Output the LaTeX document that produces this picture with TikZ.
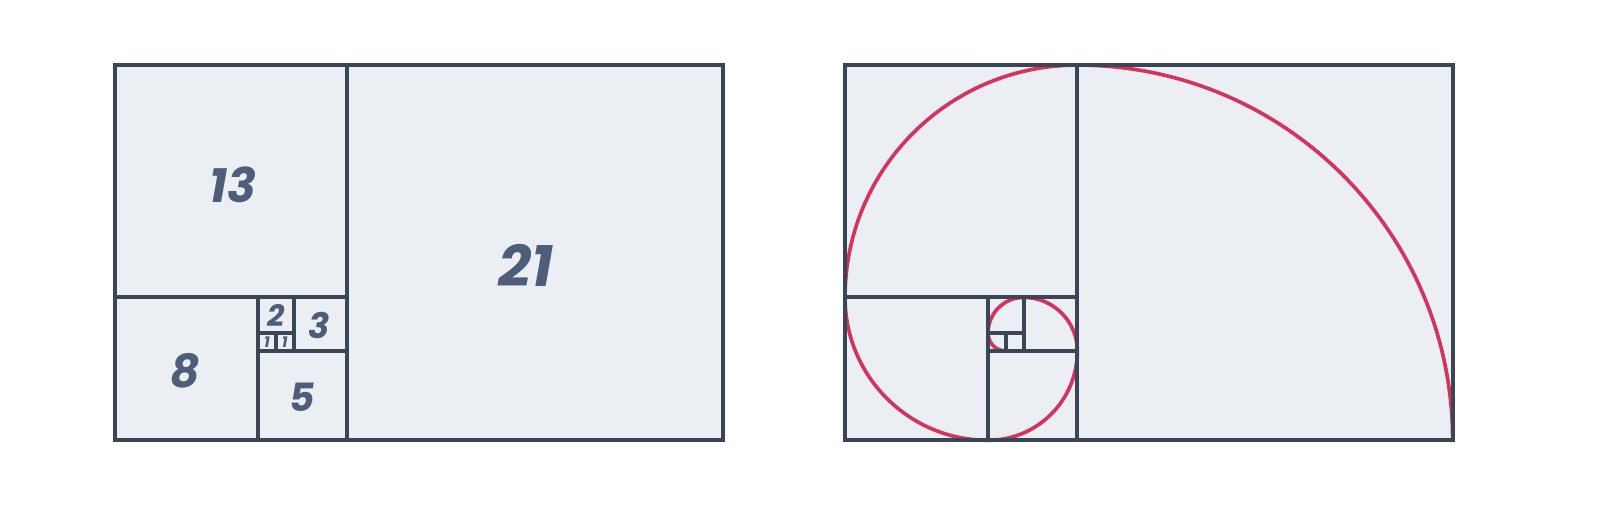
\documentclass[tikz,border=0pt]{standalone}
\usepackage{fontspec}
\setmainfont{Poppins}
\definecolor{gridline}{HTML}{3A4556}
\definecolor{boxfill}{HTML}{EBEEF3}
\definecolor{spiralred}{HTML}{D3345B}
\definecolor{numtext}{HTML}{4E5E79}

\tikzstyle{square} = [
        draw=gridline,
        line width=3.3pt,
        line join=miter,
    ]
\tikzstyle{spiral} = [
        draw=spiralred,
        line width=2.9pt,
    ]
\tikzstyle{number} = [
        text=numtext,
        font=\bfseries\itshape,
        inner sep=0pt,
    ]

\begin{document}
\begin{tikzpicture}[x=0.5cm,y=0.5cm]
            \useasboundingbox (-6.435,-4.81) rectangle (83.04,24.64);
            % left: squares with numbers
            \fill [boxfill] (0,0) rectangle (34,21);
            \draw [square] (0,0) rectangle (34,21);
            \draw [square] (13,0) -- (13,21);
            \draw [square] (0,8) -- (13,8);
            \draw [square] (8,0) -- (8,8);
            \draw [square] (8,5) -- (13,5);
            \draw [square] (10,5) -- (10,8);
            \draw [square] (8,6) -- (10,6);
            \draw [square] (9,5) -- (9,6);
            \node [number, scale=4.6] (n21) at (23.0,9.8) {21};
            \node [number, scale=3.8] (n13) at (6.6,14.3) {13};
            \node [number, scale=3.6] (n8) at (3.9,3.9) {8};
            \node [number, scale=3.1] (n5) at (10.45,2.4) {5};
            \node [number, scale=2.8] (n3) at (11.45,6.45) {3};
            \node [number, scale=2.4] (n2) at (9,7) {2};
            \node [number, scale=1.2] (n1a) at (8.5,5.5) {1};
            \node [number, scale=1.2] (n1b) at (9.5,5.5) {1};
            % right: squares with spiral
            \begin{scope}[xshift=20.425cm]
                \fill [boxfill] (0,0) rectangle (34,21);
                \draw [spiral] (34,0) arc (0:90:21) arc (90:180:13) arc (180:270:8)
                    arc (270:360:5) arc (0:90:3) arc (90:180:2) arc (180:270:1);
                \draw [square] (0,0) rectangle (34,21);
                \draw [square] (13,0) -- (13,21);
                \draw [square] (0,8) -- (13,8);
                \draw [square] (8,0) -- (8,8);
                \draw [square] (8,5) -- (13,5);
                \draw [square] (10,5) -- (10,8);
                \draw [square] (8,6) -- (10,6);
                \draw [square] (9,5) -- (9,6);
            \end{scope}
        \end{tikzpicture}
\end{document}
